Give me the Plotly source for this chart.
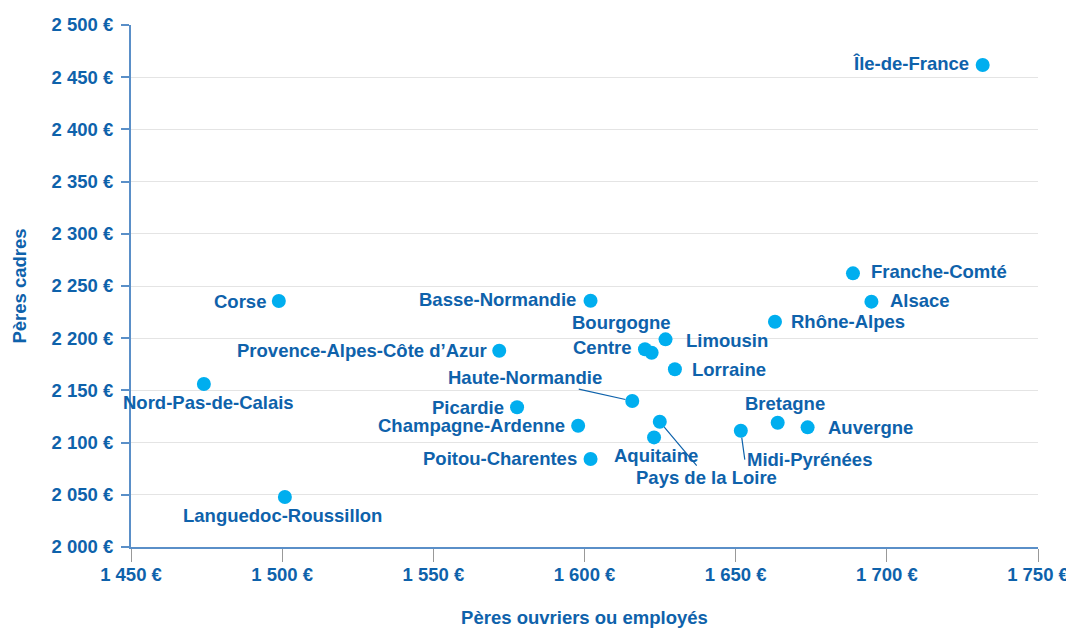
import plotly.graph_objects as go

regions = ["Île-de-France", "Franche-Comté", "Alsace", "Rhône-Alpes", "Limousin",
           "Centre", "Bourgogne", "Lorraine", "Haute-Normandie", "Pays de la Loire",
           "Aquitaine", "Midi-Pyrénées", "Bretagne", "Auvergne", "Basse-Normandie",
           "Provence-Alpes-Côte d’Azur", "Picardie", "Champagne-Ardenne",
           "Poitou-Charentes", "Corse", "Nord-Pas-de-Calais", "Languedoc-Roussillon"]
peres_ouvriers = [1731.7, 1688.8, 1694.9, 1663.0, 1626.8,
                  1620.0, 1622.2, 1629.9, 1615.8, 1624.9,
                  1623.0, 1651.7, 1663.9, 1673.8, 1602.0,
                  1571.8, 1577.7, 1597.9,
                  1602.0, 1498.9, 1474.1, 1500.9]
peres_cadres = [2461.7, 2262.1, 2235.0, 2215.8, 2198.9,
                2189.4, 2186.1, 2170.2, 2139.8, 2120.0,
                2105.0, 2111.4, 2119.0, 2114.6, 2235.9,
                2188.0, 2133.8, 2116.2,
                2084.3, 2235.6, 2156.1, 2047.9]

x_tickvals = [1450, 1500, 1550, 1600, 1650, 1700, 1750]
x_ticktext = ["1 450 €", "1 500 €", "1 550 €", "1 600 €", "1 650 €", "1 700 €", "1 750 €"]
y_tickvals = [2000, 2050, 2100, 2150, 2200, 2250, 2300, 2350, 2400, 2450, 2500]
y_ticktext = ["2 000 €", "2 050 €", "2 100 €", "2 150 €", "2 200 €", "2 250 €",
              "2 300 €", "2 350 €", "2 400 €", "2 450 €", "2 500 €"]

TEXT = "#0e62ab"
DOT = "#00aeef"
AXIS = "#5a8fc8"
FONT = "Liberation Sans, Arial, sans-serif"
FS = 18.5

# label placement: (xanchor, xshift, yshift)
placement = {
    "Île-de-France": ("right", -12, 1),
    "Franche-Comté": ("left", 16, 2),
    "Alsace": ("left", 17, 1),
    "Rhône-Alpes": ("left", 14, 0),
    "Limousin": ("left", 18, -1),
    "Centre": ("right", -11, 2),
    "Bourgogne": ("center", -30, 30),
    "Lorraine": ("left", 15, 0),
    "Aquitaine": ("center", 2, -18),
    "Bretagne": ("center", 7, 19),
    "Auvergne": ("left", 18, 0),
    "Basse-Normandie": ("right", -13, 1),
    "Provence-Alpes-Côte d’Azur": ("right", -10, 0),
    "Picardie": ("right", -11, 0),
    "Champagne-Ardenne": ("right", -11, 0),
    "Poitou-Charentes": ("right", -12, 0),
    "Corse": ("right", -11, 0),
    "Nord-Pas-de-Calais": ("center", 5, -18),
    "Languedoc-Roussillon": ("center", -2, -19),
}
# labels with leader lines: (xanchor, ax, ay)
leaders = {
    "Haute-Normandie": ("center", -107, -24),
    "Pays de la Loire": ("center", 47, 56),
    "Midi-Pyrénées": ("left", 4, 29),
}

fig = go.Figure()
fig.add_trace(go.Scatter(
    x=peres_ouvriers, y=peres_cadres, mode="markers",
    marker=dict(size=14, color=DOT, line=dict(width=0)),
    hovertext=regions, showlegend=False,
))

annotations = []
for name, xv, yv in zip(regions, peres_ouvriers, peres_cadres):
    if name in placement:
        xa, xs, ys = placement[name]
        annotations.append(dict(
            x=xv, y=yv, text=name, showarrow=False, xanchor=xa, yanchor="middle",
            xshift=xs, yshift=ys, font=dict(family=FONT, size=FS, color=TEXT, weight="bold"),
        ))
    else:
        xa, ax, ay = leaders[name]
        annotations.append(dict(
            x=xv, y=yv, text=name, showarrow=True, arrowhead=0, arrowwidth=1.2,
            arrowcolor=TEXT, ax=ax, ay=ay, xanchor=xa, yanchor="middle", standoff=7,
            font=dict(family=FONT, size=FS, color=TEXT, weight="bold"),
        ))

fig.update_layout(
    width=1074, height=630,
    margin=dict(l=123, r=44, t=17, b=91, autoexpand=False),
    plot_bgcolor="white", paper_bgcolor="white",
    annotations=annotations,
    xaxis=dict(
        range=[1450, 1750], tickvals=x_tickvals, ticktext=x_ticktext,
        showgrid=False, zeroline=False, showline=True, linecolor=AXIS, linewidth=2,
        ticks="outside", ticklen=13, tickcolor="#999999", tickwidth=1,
        ticklabelstandoff=-3, automargin=False,
        tickfont=dict(family=FONT, size=FS, color=TEXT, weight="bold"),
        title=dict(text="Pères ouvriers ou employés", standoff=27,
                   font=dict(family=FONT, size=FS, color=TEXT, weight="bold")),
    ),
    yaxis=dict(
        range=[2000, 2500], tickvals=y_tickvals, ticktext=y_ticktext,
        showgrid=True, gridcolor="#e4e4e4", gridwidth=1, zeroline=False,
        showline=True, linecolor=AXIS, linewidth=2,
        ticks="outside", ticklen=8, tickcolor=AXIS, tickwidth=2,
        ticklabelstandoff=4, automargin=False,
        tickfont=dict(family=FONT, size=FS, color=TEXT, weight="bold"),
        title=dict(text="Pères cadres", standoff=20,
                   font=dict(family=FONT, size=FS, color=TEXT, weight="bold")),
    ),
)

fig.write_html("out.html")
